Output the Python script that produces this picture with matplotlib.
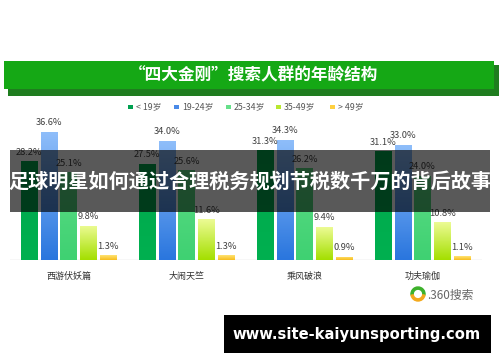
#!/usr/bin/env python3
"""Age structure of searchers for four films, grouped bars with overlay banner."""

import numpy as np
import matplotlib
matplotlib.use("Agg")
import matplotlib.pyplot as plt
from matplotlib.colors import LinearSegmentedColormap
from matplotlib.patches import Rectangle, Wedge

plt.rcParams["font.family"] = ["Noto Sans CJK SC", "DejaVu Sans"]

# data
films = ["西游伏妖篇", "大闹天竺", "乘风破浪", "功夫瑜伽"]
age_groups = ["< 19岁", "19-24岁", "25-34岁", "35-49岁", "> 49岁"]
under_19 = [28.2, 27.5, 31.3, 31.1]
age_19_24 = [36.6, 34.0, 34.3, 33.0]
age_25_34 = [25.1, 25.6, 26.2, 24.0]
age_35_49 = [9.8, 11.6, 9.4, 10.8]
over_49 = [1.3, 1.3, 0.9, 1.1]
series = [under_19, age_19_24, age_25_34, age_35_49, over_49]

title = "“四大金刚”搜索人群的年龄结构"
banner = "足球明星如何通过合理税务规划节税数千万的背后故事"
site = "www.site-kaiyunsporting.com"

# (top colour, bottom colour) for each age group
grad = [
    ("#00A84C", "#00B050"),
    ("#8FBEFA", "#2A76DE"),
    ("#5ADB84", "#3FD172"),
    ("#ECFB94", "#A4DF00"),
    ("#FFE373", "#F7BD1E"),
]
legend_colors = ["#00A050", "#4A8AE8", "#66E08A", "#B8E830", "#FFD040"]

W, H = 500, 362
fig = plt.figure(figsize=(W / 100, H / 100), dpi=100)
fig.patch.set_facecolor("white")


def px(x, y):
    """Pixel position (top-left origin) to figure fraction."""
    return x / W, 1 - y / H


def frect(x0, y0, x1, y1, **kw):
    (fx0, fy1), (fx1, fy0) = px(x0, y0), px(x1, y1)
    r = Rectangle((fx0, fy0), fx1 - fx0, fy1 - fy0, transform=fig.transFigure, **kw)
    fig.patches.append(r)
    return r


# title banner with shadow
frect(8, 65, 499, 96, facecolor="#1F7D1F", edgecolor="none", zorder=1)
frect(4, 61, 494, 89, facecolor="#15A815", edgecolor="none", zorder=2)
fig.text(*px(254, 75), title, color="white", fontsize=12, fontweight="bold",
         ha="center", va="center", zorder=3)

# legend
leg_x = [130, 176, 228, 278, 332]
for lx, lab, col in zip(leg_x, age_groups, legend_colors):
    frect(lx - 2.5, 104.5, lx + 2.5, 109.5, facecolor=col, edgecolor="none")
    fig.text(*px(lx + 6, 107), lab, color="#555555", fontsize=6.3,
             ha="left", va="center")

# chart axes
ax = fig.add_axes([9.5 / W, (H - 260) / H, 472 / W, 140 / H])
ax.set_xlim(-0.5, 3.5)
ax.set_ylim(0, 40)
ax.axis("off")
ax.axhline(0, color="#D9D9D9", linewidth=1.0, zorder=1)

x = np.arange(len(films))
step = 0.1673
width = 0.136
for i, (vals, (top, bot)) in enumerate(zip(series, grad)):
    cmap = LinearSegmentedColormap.from_list(f"g{i}", [bot, top])
    xs = x + (i - 2) * step
    bars = ax.bar(xs, vals, width=width, color=top, edgecolor="none", zorder=2)
    for b, v in zip(bars, vals):
        x0 = b.get_x()
        img = ax.imshow(np.linspace(0, 1, 64).reshape(-1, 1), cmap=cmap,
                        extent=[x0, x0 + width, 0, v], origin="lower",
                        aspect="auto", zorder=2.5)
        img.set_clip_path(b)
        ax.text(x0 + width / 2, v + 2.6, f"{v:.1f}%", ha="center",
                va="center", fontsize=6.7, color="#404040", zorder=3)

for xi, name in zip(x, films):
    ax.text(xi, -4.6, name, ha="center", va="center", fontsize=6.5,
            color="#333333", clip_on=False)

# 360 search logo
lx, ly = px(418, 294)
ring_ax = fig.add_axes([lx - 9 / W, ly - 9 / H, 18 / W, 18 / H])
ring_ax.set_xlim(-9, 9)
ring_ax.set_ylim(-9, 9)
ring_ax.axis("off")
ring_ax.add_patch(Wedge((0, 0), 7, -10, 190, width=2.2, color="#3DB12B"))
ring_ax.add_patch(Wedge((0, 0), 7, 190, 350, width=2.2, color="#F4A91B"))
fig.text(*px(427, 295), ".360搜索", color="#666666", fontsize=8.5,
         ha="left", va="center")

# overlay banner
frect(10, 150, 490, 212, facecolor="black", alpha=0.65, edgecolor="none", zorder=10)
fig.text(*px(250, 181), banner, color="white", fontsize=14.5, fontweight="bold",
         ha="center", va="center", zorder=11)

# site box
frect(224, 315, 491, 353, facecolor="black", edgecolor="none", zorder=10)
fig.text(*px(357, 334), site, color="white", fontsize=10.6, fontweight="bold",
         ha="center", va="center", family="DejaVu Sans", zorder=11)

fig.savefig("out.png", dpi=100)
